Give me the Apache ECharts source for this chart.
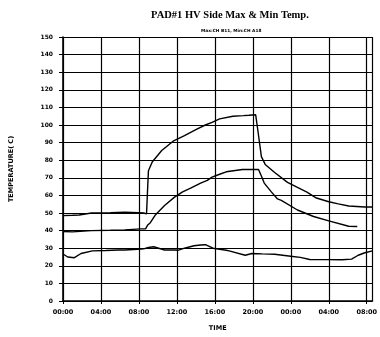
<!DOCTYPE html>
<html>
<head>
<meta charset="utf-8">
<script src="https://cdn.jsdelivr.net/npm/echarts@6/dist/echarts.min.js"></script>
<style>
  html, body { margin: 0; padding: 0; background: #fff; }
  #chart { width: 380px; height: 337px; }
</style>
</head>
<body>
<div id="chart"></div>
<script>
// hours from 00:00 of day 1, temperatures in deg C
const upperHours = [0, 1, 1.7, 3, 5, 6.5, 8, 8.5, 8.8, 8.9, 9.0, 9.4, 10.4, 11.6, 12.8, 14.1, 15.0, 15.7, 16.5, 17.9, 19, 19.6, 20.3, 20.5, 20.9, 21.3, 22.3, 23.65, 24.7, 25.7, 26.7, 28, 29, 30.1, 31.8, 32.6]
const upperTemps = [48.5, 48.7, 48.9, 50, 50.2, 50.4, 50.2, 50, 49.5, 62, 74, 79, 85.5, 90.8, 94, 97.7, 100, 101.5, 103.5, 105, 105.3, 105.5, 105.8, 98, 82, 77.6, 73, 67.4, 64.5, 61.9, 58.5, 56.4, 55.2, 54, 53.4, 53.4]

const middleHours = [0, 1, 3, 5, 6.5, 8.2, 8.7, 8.9, 9.2, 9.7, 10.7, 11.75, 12.6, 13.5, 14.5, 15.2, 15.7, 16.5, 17.2, 18.9, 20.6, 20.9, 21.2, 21.95, 22.6, 23, 24.7, 26.4, 28, 30.1, 31]
const middleTemps = [39.5, 39.3, 40, 40.2, 40.4, 41, 41, 43, 44.5, 48.7, 54.3, 59, 62, 64.3, 67, 68.5, 70.4, 72, 73.4, 74.7, 74.7, 71, 67, 62, 58, 57.2, 51.7, 48, 45.5, 42.5, 42.3]

const lowerHours = [0, 0.5, 1.2, 1.9, 3.1, 4.5, 5.8, 6.5, 7.85, 8.5, 9, 9.55, 10.7, 11.75, 12.1, 12.8, 13.8, 14.5, 15, 15.8, 17.2, 17.5, 19.2, 19.9, 21, 22.3, 24, 25, 26, 27.7, 29.4, 30.4, 31.1, 31.8, 32.6]
const lowerTemps = [26.7, 25, 24.6, 27, 28.5, 28.7, 29, 29, 29.4, 29.6, 30.4, 30.8, 29, 29, 28.8, 30, 31.4, 31.8, 32, 30, 28.8, 28.5, 26, 27, 26.8, 26.6, 25.4, 24.8, 23.6, 23.5, 23.4, 23.8, 26, 27.4, 28.5]

const titleText = 'PAD#1 HV Side Max & Min Temp.'
const subText = 'Max:CH B11, Min:CH A18'

function pairs(xs, ys) {
  return xs.map((x, i) => [x, ys[i]])
}

function timeLabel(v) {
  if (v % 4 !== 0) return ''
  const h = v % 24
  return (h < 10 ? '0' + h : '' + h) + ':00'
}

const chart = echarts.init(document.getElementById('chart'), null, { renderer: 'canvas' })

const tickFont = {
  color: '#000',
  fontFamily: 'DejaVu Sans',
  fontWeight: 'bold',
  fontSize: 6
}

const lineStyle = { color: '#000', width: 1.4 }

const option = {
  backgroundColor: '#fff',
  animation: false,
  title: [
    {
      text: titleText,
      left: 146,
      top: 5,
      textStyle: { color: '#000', fontFamily: 'Liberation Serif', fontWeight: 'bold', fontSize: 10.5 }
    },
    {
      text: subText,
      left: 196,
      top: 24,
      textStyle: { color: '#000', fontFamily: 'DejaVu Sans', fontWeight: 'bold', fontSize: 4.3 }
    }
  ],
  grid: { left: 58, right: 2, top: 37, bottom: 35 },
  xAxis: {
    type: 'value',
    min: 0,
    max: 32.6,
    interval: 4,
    name: 'TIME',
    nameLocation: 'middle',
    nameGap: 24,
    nameTextStyle: { ...tickFont, fontSize: 6.5 },
    axisLine: { show: true, lineStyle: { color: '#000', width: 1.6 } },
    axisTick: { show: true, length: 3, lineStyle: { color: '#000' } },
    axisLabel: { ...tickFont, fontSize: 6.5, margin: 8, showMaxLabel: false, formatter: timeLabel },
    splitLine: { show: true, lineStyle: { color: '#000', width: 1.2 } }
  },
  yAxis: {
    type: 'value',
    min: 0,
    max: 150,
    interval: 10,
    name: 'TEMPERATURE( C)',
    nameLocation: 'middle',
    nameGap: 48,
    nameTextStyle: { ...tickFont, fontSize: 6.5 },
    axisLine: { show: true, lineStyle: { color: '#000', width: 1.6 } },
    axisTick: { show: true, length: 4, lineStyle: { color: '#000' } },
    axisLabel: { ...tickFont, margin: 10 },
    splitLine: { show: true, lineStyle: { color: '#000', width: 1.2 } }
  },
  series: [
    { name: 'Max', type: 'line', data: pairs(upperHours, upperTemps), showSymbol: false, lineStyle },
    { name: 'Mid', type: 'line', data: pairs(middleHours, middleTemps), showSymbol: false, lineStyle },
    { name: 'Min', type: 'line', data: pairs(lowerHours, lowerTemps), showSymbol: false, lineStyle }
  ]
}

chart.setOption(option)
</script>
</body>
</html>
